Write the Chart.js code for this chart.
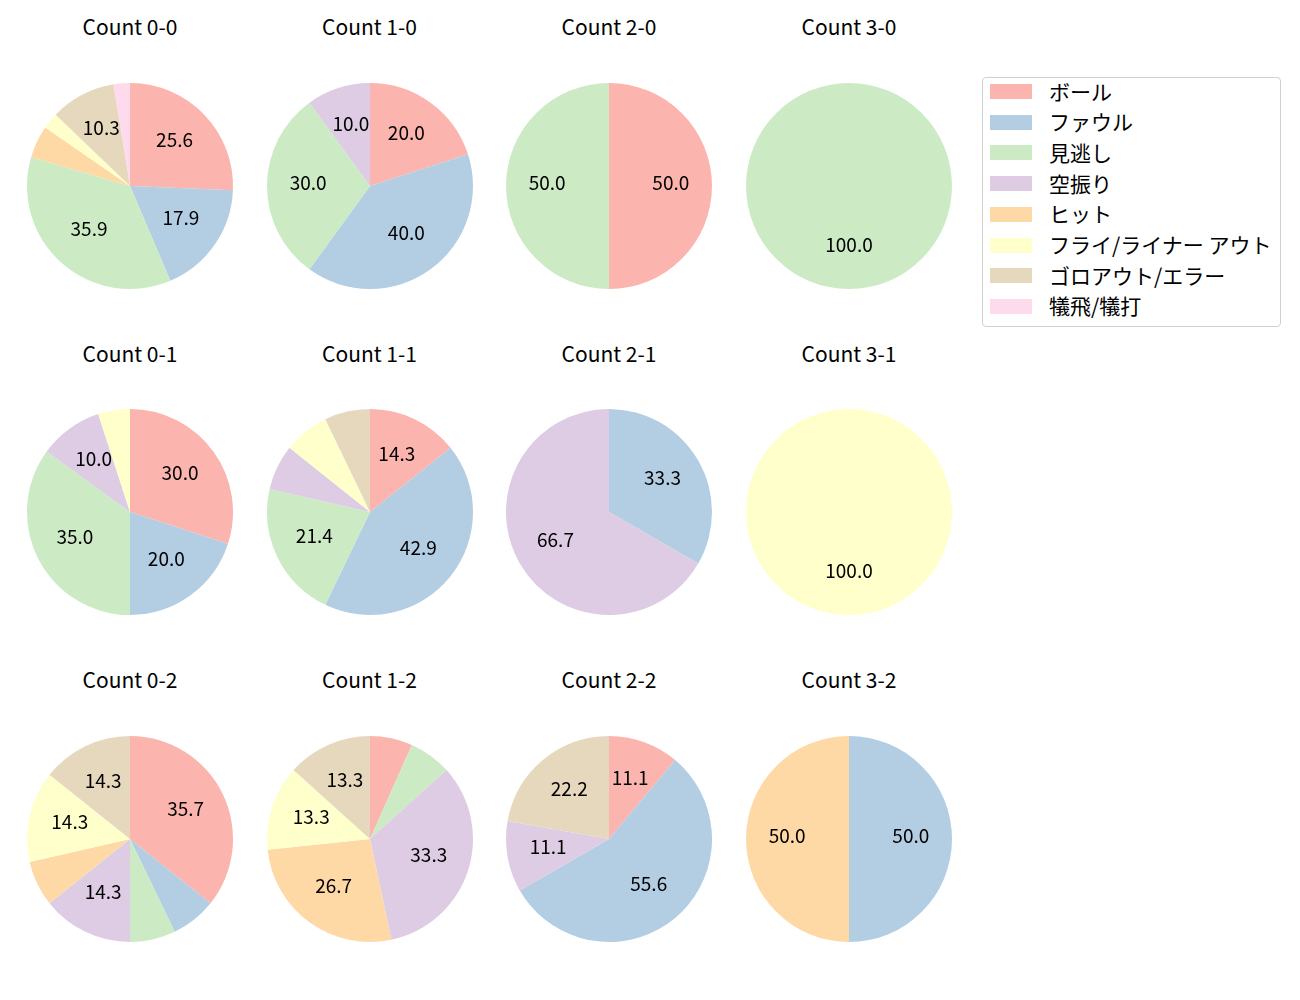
<!DOCTYPE html>
<html>
<head>
<meta charset="utf-8">
<script src="https://cdn.jsdelivr.net/npm/chart.js@4.4.0/dist/chart.umd.min.js"></script>
<style>
  body { margin: 0; background: #fff; }
  #stage { position: relative; width: 1300px; height: 1000px; font-family: "Noto Sans CJK JP", "Noto Sans", sans-serif; color: #000; }
  .pie { position: absolute; }
  .title { position: absolute; width: 200px; text-align: center; font-size: 21px; line-height: 24px; }
  #legend { position: absolute; left: 982px; top: 77px; width: 297px; height: 248px; border: 1px solid #d0d0d0; border-radius: 4px; }
  .patch { position: absolute; left: 7px; width: 42px; height: 15px; }
  .ltext { position: absolute; left: 66px; font-size: 21px; line-height: 24px; white-space: pre; }
</style>
</head>
<body>
<div id="stage"><div id="legend"></div></div>
<script>
const categories = ['ボール', 'ファウル', '見逃し', '空振り', 'ヒット', 'フライ/ライナー アウト', 'ゴロアウト/エラー', '犠飛/犠打'];
const colors = ['#fbb4ae', '#b3cde3', '#ccebc5', '#decbe4', '#fed9a6', '#ffffcc', '#e5d8bd', '#fddaec'];

// pitch counts per category (ball-strike)
const count00 = [10, 7, 14, 0, 2, 1, 4, 1];
const count10 = [2, 4, 3, 1, 0, 0, 0, 0];
const count20 = [1, 0, 1, 0, 0, 0, 0, 0];
const count30 = [0, 0, 1, 0, 0, 0, 0, 0];
const count01 = [6, 4, 7, 2, 0, 1, 0, 0];
const count11 = [2, 6, 3, 1, 0, 1, 1, 0];
const count21 = [0, 1, 0, 2, 0, 0, 0, 0];
const count31 = [0, 0, 0, 0, 0, 1, 0, 0];
const count02 = [5, 1, 1, 2, 1, 2, 2, 0];
const count12 = [1, 0, 1, 5, 4, 2, 2, 0];
const count22 = [1, 5, 0, 1, 0, 0, 2, 0];
const count32 = [0, 1, 0, 0, 1, 0, 0, 0];

const panels = [
  ['Count 0-0', count00], ['Count 1-0', count10], ['Count 2-0', count20], ['Count 3-0', count30],
  ['Count 0-1', count01], ['Count 1-1', count11], ['Count 2-1', count21], ['Count 3-1', count31],
  ['Count 0-2', count02], ['Count 1-2', count12], ['Count 2-2', count22], ['Count 3-2', count32]
];

const colX = [130, 369.5, 609, 849];
const rowY = [185.5, 512, 838.5];
const radius = 103;

// percentage labels inside the wedges, like matplotlib autopct
const pctLabels = {
  id: 'pctLabels',
  afterDatasetsDraw(chart) {
    const ctx = chart.ctx;
    const data = chart.data.datasets[0].data;
    const total = data.reduce((a, b) => a + b, 0);
    ctx.save();
    ctx.font = '19px "Noto Sans CJK JP", "Noto Sans", sans-serif';
    ctx.fillStyle = '#000';
    ctx.textAlign = 'center';
    ctx.textBaseline = 'middle';
    chart.getDatasetMeta(0).data.forEach((arc, i) => {
      const pct = data[i] / total * 100;
      if (pct < 9.95) return;
      const mid = (arc.startAngle + arc.endAngle) / 2;
      const r = arc.outerRadius * 0.6;
      ctx.fillText(pct.toFixed(1), arc.x + Math.cos(mid) * r, arc.y + Math.sin(mid) * r - 3);
    });
    ctx.restore();
  }
};

const stage = document.getElementById('stage');

panels.forEach(([title, values], k) => {
  const cx = colX[k % 4];
  const cy = rowY[Math.floor(k / 4)];

  const t = document.createElement('div');
  t.className = 'title';
  t.textContent = title;
  t.style.left = (cx - 100) + 'px';
  t.style.top = (cy - 159.5 - 12) + 'px';
  stage.appendChild(t);

  const size = radius * 2 + 4;
  const canvas = document.createElement('canvas');
  canvas.className = 'pie';
  canvas.width = size;
  canvas.height = size;
  canvas.style.left = (cx - size / 2) + 'px';
  canvas.style.top = (cy - size / 2) + 'px';
  stage.appendChild(canvas);

  new Chart(canvas, {
    type: 'pie',
    data: {
      labels: categories,
      datasets: [{
        data: values,
        backgroundColor: colors,
        borderWidth: 0
      }]
    },
    options: {
      responsive: false,
      animation: false,
      layout: { padding: 2 },
      plugins: {
        legend: { display: false },
        tooltip: { enabled: false }
      }
    },
    plugins: [pctLabels]
  });
});

// legend
const legend = document.getElementById('legend');
categories.forEach((name, i) => {
  const yc = 13.5 + i * 30.7;
  const p = document.createElement('div');
  p.className = 'patch';
  p.style.top = (yc - 7.5) + 'px';
  p.style.background = colors[i];
  legend.appendChild(p);
  const s = document.createElement('div');
  s.className = 'ltext';
  s.style.top = (yc - 13) + 'px';
  s.textContent = name;
  legend.appendChild(s);
});
</script>
</body>
</html>
